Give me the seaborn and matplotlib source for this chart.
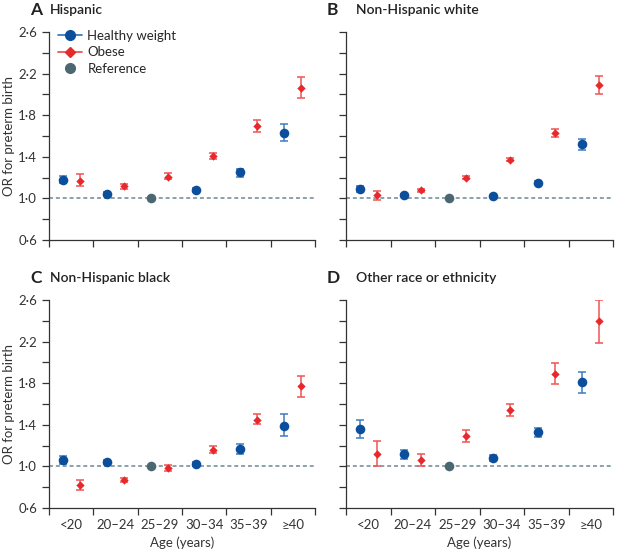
import numpy as np
import pandas as pd
import matplotlib
matplotlib.use("Agg")
import matplotlib.pyplot as plt
import seaborn as sns
from matplotlib.lines import Line2D
from matplotlib.ticker import MultipleLocator, FixedLocator

sns.set_style("ticks")
plt.rcParams['font.family'] = ['Lato', 'DejaVu Sans']

ages = ["<20", "20–24", "25–29", "30–34", "35–39", "≥40"]
panels = ["Hispanic", "Non-Hispanic white", "Non-Hispanic black", "Other race or ethnicity"]
letters = ["A", "B", "C", "D"]

# Healthy weight OR, lower, upper (25–29 is reference)
hw_or = {
    "Hispanic":                [1.18, 1.04, 1.00, 1.08, 1.25, 1.63],
    "Non-Hispanic white":      [1.09, 1.03, 1.00, 1.02, 1.15, 1.52],
    "Non-Hispanic black":      [1.06, 1.04, 1.00, 1.02, 1.17, 1.39],
    "Other race or ethnicity": [1.36, 1.12, 1.00, 1.08, 1.33, 1.81],
}
hw_lo = {
    "Hispanic":                [1.15, 1.02, 1.00, 1.06, 1.21, 1.55],
    "Non-Hispanic white":      [1.06, 1.02, 1.00, 1.01, 1.14, 1.47],
    "Non-Hispanic black":      [1.02, 1.02, 1.00, 1.00, 1.12, 1.29],
    "Other race or ethnicity": [1.27, 1.07, 1.00, 1.05, 1.28, 1.71],
}
hw_hi = {
    "Hispanic":                [1.22, 1.06, 1.00, 1.10, 1.28, 1.72],
    "Non-Hispanic white":      [1.12, 1.04, 1.00, 1.03, 1.17, 1.57],
    "Non-Hispanic black":      [1.10, 1.06, 1.00, 1.04, 1.22, 1.50],
    "Other race or ethnicity": [1.45, 1.16, 1.00, 1.11, 1.37, 1.91],
}
ob_or = {
    "Hispanic":                [1.17, 1.12, 1.21, 1.41, 1.70, 2.06],
    "Non-Hispanic white":      [1.03, 1.08, 1.20, 1.37, 1.63, 2.09],
    "Non-Hispanic black":      [0.82, 0.87, 0.98, 1.16, 1.45, 1.77],
    "Other race or ethnicity": [1.12, 1.06, 1.29, 1.54, 1.89, 2.40],
}
ob_lo = {
    "Hispanic":                [1.12, 1.09, 1.19, 1.38, 1.64, 1.97],
    "Non-Hispanic white":      [0.98, 1.06, 1.19, 1.36, 1.59, 2.00],
    "Non-Hispanic black":      [0.77, 0.85, 0.96, 1.13, 1.41, 1.67],
    "Other race or ethnicity": [1.00, 1.00, 1.23, 1.48, 1.79, 2.19],
}
ob_hi = {
    "Hispanic":                [1.23, 1.14, 1.24, 1.44, 1.75, 2.17],
    "Non-Hispanic white":      [1.07, 1.09, 1.22, 1.39, 1.67, 2.18],
    "Non-Hispanic black":      [0.87, 0.89, 1.01, 1.20, 1.50, 1.87],
    "Other race or ethnicity": [1.24, 1.12, 1.35, 1.60, 1.99, 2.60],
}
y_ticks = [0.6, 1.0, 1.4, 1.8, 2.2, 2.6]
y_tick_labels = ["0·6", "1·0", "1·4", "1·8", "2·2", "2·6"]

BLUE = "#0b4f9c"
BLUE_L = "#3d7cc4"
RED = "#e8292b"
RED_L = "#f05454"
REF = "#4b6872"
DASH = "#7f9ba5"

W, H = 617, 553
fig = plt.figure(figsize=(W / 100, H / 100), dpi=100)

boxes = [(49, 32, 315, 240), (346, 32, 613, 240), (49, 300, 315, 508), (346, 300, 613, 508)]
off = 0.19

for k, name in enumerate(panels):
    l, t, r, b = boxes[k]
    ax = fig.add_axes([l / W, 1 - b / H, (r - l) / W, (b - t) / H])
    x = np.arange(len(ages))
    hx = x - off
    ox = x + off
    hwv = np.array(hw_or[name]); hwl = np.array(hw_lo[name]); hwh = np.array(hw_hi[name])
    obv = np.array(ob_or[name]); obl = np.array(ob_lo[name]); obh = np.array(ob_hi[name])
    ref_idx = 2
    mask = np.arange(len(ages)) != ref_idx

    ax.axhline(1.0, color=DASH, lw=1.3, ls=(0, (2.2, 1.6)), zorder=1)

    ax.errorbar(hx[mask], hwv[mask], yerr=[hwv[mask] - hwl[mask], hwh[mask] - hwv[mask]],
                fmt="none", ecolor=BLUE_L, elinewidth=1.1, capsize=3.2, capthick=1.1, zorder=2)
    ax.errorbar(ox, obv, yerr=[obv - obl, obh - obv],
                fmt="none", ecolor=RED_L, elinewidth=1.1, capsize=3.2, capthick=1.1, zorder=2)

    df_h = pd.DataFrame({"x": hx[mask], "y": hwv[mask]})
    df_o = pd.DataFrame({"x": ox, "y": obv})
    df_r = pd.DataFrame({"x": [hx[ref_idx]], "y": [hwv[ref_idx]]})
    sns.scatterplot(data=df_h, x="x", y="y", ax=ax, color=BLUE, marker="o", s=48,
                    edgecolor=BLUE, linewidth=0, zorder=3)
    sns.scatterplot(data=df_o, x="x", y="y", ax=ax, color=RED, marker="D", s=18,
                    edgecolor=RED, linewidth=0, zorder=3)
    sns.scatterplot(data=df_r, x="x", y="y", ax=ax, color=REF, marker="o", s=48,
                    edgecolor=REF, linewidth=0, zorder=3)

    ax.set_xlim(-0.5, 5.5)
    ax.set_ylim(0.6, 2.6)
    ax.set_xticks(np.arange(-0.5, 6.0, 1.0))
    ax.set_xticklabels([])
    ax.xaxis.set_minor_locator(FixedLocator(x))
    ax.tick_params(axis="x", which="minor", length=0, labelsize=9.5, colors="#333333", pad=8)
    if k >= 2:
        ax.set_xticklabels(ages, minor=True)
        ax.set_xlabel("Age (years)", fontsize=9.5, color="#333333", labelpad=4)
    else:
        ax.set_xlabel("")
    ax.set_yticks(y_ticks)
    ax.yaxis.set_minor_locator(MultipleLocator(0.2))
    if k % 2 == 0:
        ax.set_yticklabels(y_tick_labels)
        ax.set_ylabel("OR for preterm birth", fontsize=9.5, color="#333333", labelpad=2)
    else:
        ax.set_yticklabels([])
        ax.set_ylabel("")
    ax.tick_params(axis="both", which="major", length=5, width=0.9, labelsize=9.5,
                   colors="#333333", direction="out")
    ax.tick_params(axis="y", which="minor", length=5, width=0.9, colors="#333333")
    ax.tick_params(axis="x", which="major", length=5, width=0.9)
    for s in ["top", "right"]:
        ax.spines[s].set_visible(False)
    for s in ["left", "bottom"]:
        ax.spines[s].set_color("#333333")
        ax.spines[s].set_linewidth(0.9)

    # panel titles
    fig.text((l - 19) / W, 1 - (t - 22) / H, letters[k], fontsize=12.5, fontweight="bold",
             color="#222222", va="center", ha="left")
    fig.text((l + 1 if k % 2 == 0 else l + 10) / W, 1 - (t - 22) / H, name, fontsize=10,
             fontweight="semibold", color="#222222", va="center", ha="left")

    if k == 0:
        handles = [
            Line2D([0], [0], color=BLUE_L, lw=1.3, marker="o", markersize=7,
                   markerfacecolor=BLUE, markeredgecolor=BLUE),
            Line2D([0], [0], color=RED_L, lw=1.3, marker="D", markersize=5,
                   markerfacecolor=RED, markeredgecolor=RED),
            Line2D([0], [0], color="none", marker="o", markersize=7,
                   markerfacecolor=REF, markeredgecolor=REF),
        ]
        ax.legend(handles, ["Healthy weight", "Obese", "Reference"], loc="upper left",
                  bbox_to_anchor=(0.0, 1.055), frameon=False, fontsize=9.5, handlelength=1.8,
                  handletextpad=0.4, labelspacing=0.35, borderaxespad=0.3)

fig.savefig("out.png", dpi=100)
